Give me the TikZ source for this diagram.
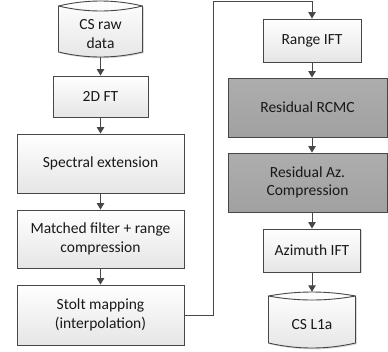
\documentclass[tikz,border=0pt]{standalone}
\usepackage{fontspec}
\setmainfont{Carlito}
\usetikzlibrary{shadows,arrows.meta}
\begin{document}
\begin{tikzpicture}[x=1pt,y=-1pt,
  lbl/.style={align=center, font=\fontsize{15.5}{18.5}\selectfont, text=black!90, inner sep=0pt},
  box/.style={lbl, draw=black!72, line width=0.9pt, top color=white, bottom color=black!10,
    drop shadow={shadow xshift=1.3pt, shadow yshift=-1.3pt, fill=black, opacity=0.15}},
  darkbox/.style={box, top color=black!32, bottom color=black!37},
  cylline/.style={draw=black!72, line width=0.9pt},
  cylfill/.style={top color=white, bottom color=black!10},
  cylshadow/.style={fill=black, opacity=0.15},
  arr/.style={draw=black!72, line width=0.9pt, -{Triangle[length=6.5pt,width=7.5pt]}}]
\useasboundingbox (0,0) rectangle (388,351);

% left column
\node[box, minimum width=95pt, minimum height=41pt] (fft) at (100.5,96.5) {2D FT};
\node[box, minimum width=167pt, minimum height=59pt] (spec) at (100.5,163.5) {Spectral extension};
\node[box, minimum width=167pt, minimum height=58pt] (mf) at (100.5,239) {Matched filter + range\\compression};
\node[box, minimum width=167pt, minimum height=60pt] (stolt) at (100.5,315) {Stolt mapping\\(interpolation)};

% right column
\node[box, minimum width=98pt, minimum height=43pt] (rift) at (312,40.5) {Range IFT};
\node[darkbox, minimum width=159pt, minimum height=59pt] (rcmc) at (307.5,107.5) {Residual RCMC};
\node[darkbox, minimum width=159pt, minimum height=59pt] (raz) at (307.5,182.5) {Residual Az.\\Compression};
\node[box, minimum width=97pt, minimum height=43pt] (aift) at (312,250.5) {Azimuth IFT};

% cylinder: CS raw data
\path[cylshadow] (59.8,7.3) .. controls (87.8,0.6) and (115.8,0.6) .. (143.8,7.3) -- (143.8,53.3) .. controls (115.8,60) and (87.8,60) .. (59.8,53.3) -- cycle;
\path[cylfill, cylline] (58.5,6) .. controls (86.5,-0.67) and (114.5,-0.67) .. (142.5,6) -- (142.5,52) .. controls (114.5,58.67) and (86.5,58.67) .. (58.5,52) -- cycle;
\draw[cylline] (58.5,6) .. controls (86.5,12.67) and (114.5,12.67) .. (142.5,6);
\node[lbl, minimum width=84pt, minimum height=46pt] (raw) at (100.5,34) {CS raw\\data};

% cylinder: CS L1a
\path[cylshadow] (269.8,297.3) .. controls (298.8,292) and (327.8,292) .. (356.8,297.3) -- (356.8,344.3) .. controls (327.8,351) and (298.8,351) .. (269.8,344.3) -- cycle;
\path[cylfill, cylline] (268.5,296) .. controls (297.5,290.67) and (326.5,290.67) .. (355.5,296) -- (355.5,343) .. controls (326.5,349.67) and (297.5,349.67) .. (268.5,343) -- cycle;
\draw[cylline] (268.5,296) .. controls (297.5,301.33) and (326.5,301.33) .. (355.5,296);
\node[lbl, minimum width=87pt, minimum height=48pt] (l1a) at (312,325) {CS L1a};

% connectors
\draw[arr] (raw.south) -- (fft.north);
\draw[arr] (fft.south) -- (spec.north);
\draw[arr] (spec.south) -- (mf.north);
\draw[arr] (mf.south) -- (stolt.north);
\coordinate (up) at (213.5,1);
\draw[arr] (stolt.east) -| (up) -| (rift.north);
\draw[arr] (rift.south) -- (rift.south |- rcmc.north);
\draw[arr] (rcmc.south -| rift.south) -- (rift.south |- raz.north);
\draw[arr] (raz.south -| rift.south) -- (aift.north);
\draw[arr] (aift.south) -- ([yshift=9pt]l1a.north);
\end{tikzpicture}
\end{document}
